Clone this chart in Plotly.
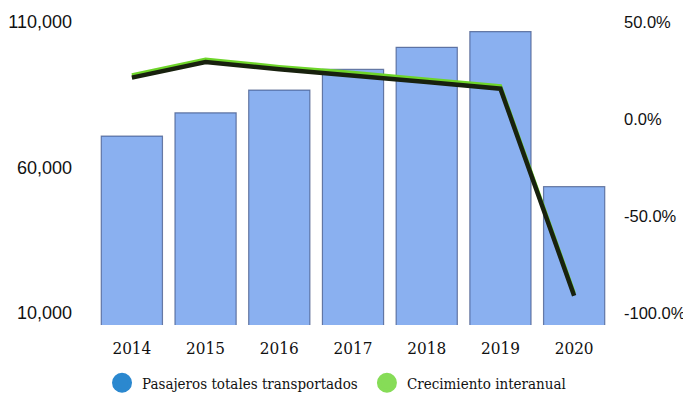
import plotly.graph_objects as go

years = ["2014", "2015", "2016", "2017", "2018", "2019", "2020"]
pasajeros = [70800, 78800, 86600, 93700, 101300, 106700, 53400]
crecimiento = [22.7, 30.8, 27.0, 24.0, 20.5, 17.0, -89.7]

left_ticks = [10000, 60000, 110000]
left_text = ["10,000", "60,000", "110,000"]
right_ticks = [-100, -50, 0, 50]
right_text = ["-100.0%", "-50.0%", "0.0%", "50.0%"]

SERIF = "DejaVu Serif Condensed, DejaVu Serif, serif"
SANS = "Liberation Sans, Arial, sans-serif"

y2_range = [-106.2, 50]
shadow_shift = 1.4  # shadow drawn a few pixels lower via offset axis

fig = go.Figure()
fig.add_trace(go.Bar(
    x=years, y=pasajeros,
    marker=dict(color="#8AB0F0", line=dict(color="rgba(60,80,130,0.7)", width=1.2)),
    showlegend=False, yaxis="y",
))
fig.add_trace(go.Scatter(
    x=years, y=crecimiento, mode="lines", yaxis="y3",
    line=dict(color="#18210E", width=4.5), showlegend=False,
))
fig.add_trace(go.Scatter(
    x=years, y=crecimiento, mode="lines", yaxis="y2",
    line=dict(color="#6ED52A", width=3.5), showlegend=False,
))
# legend entries
fig.add_trace(go.Scatter(
    x=[None], y=[None], mode="markers", name="Pasajeros totales transportados",
    marker=dict(color="#2B88CF", size=16, line=dict(color="#2B88CF", width=4)),
    legend="legend",
))
fig.add_trace(go.Scatter(
    x=[None], y=[None], mode="markers", name="Crecimiento interanual",
    marker=dict(color="#86DC57", size=16, line=dict(color="#86DC57", width=4)),
    legend="legend2",
))

legend_font = dict(family=SERIF, size=15, color="#111")
fig.update_layout(
    width=683, height=389, autosize=False,
    margin=dict(l=87, r=80, t=14, b=72),
    paper_bgcolor="white", plot_bgcolor="white",
    bargap=0.17,
    xaxis=dict(type="category", showgrid=False, showline=False, zeroline=False,
               ticks="", tickfont=dict(family=SERIF, size=17, color="#111"),
               ticklabelstandoff=11, automargin=False),
    yaxis=dict(range=[5876, 110000], tickvals=left_ticks, ticktext=left_text,
               showgrid=False, zeroline=False, showline=False, ticks="",
               tickfont=dict(family=SANS, size=18, color="#111"),
               ticklabelstandoff=22, automargin=False),
    yaxis2=dict(range=y2_range, overlaying="y", side="right",
                tickvals=right_ticks, ticktext=right_text,
                showgrid=False, zeroline=False, showline=False, ticks="",
                tickfont=dict(family=SANS, size=16.5, color="#111"),
                ticklabelstandoff=12, automargin=False),
    yaxis3=dict(range=[y2_range[0] + shadow_shift, y2_range[1] + shadow_shift],
                overlaying="y", visible=False),
    legend=dict(orientation="h", x=0.0136, xanchor="left", y=0.036, yanchor="middle",
                yref="container", font=legend_font, itemsizing="trace"),
    legend2=dict(orientation="h", x=0.527, xanchor="left", y=0.036, yanchor="middle",
                 yref="container", font=legend_font, itemsizing="trace"),
)

fig.write_html("out.html")
